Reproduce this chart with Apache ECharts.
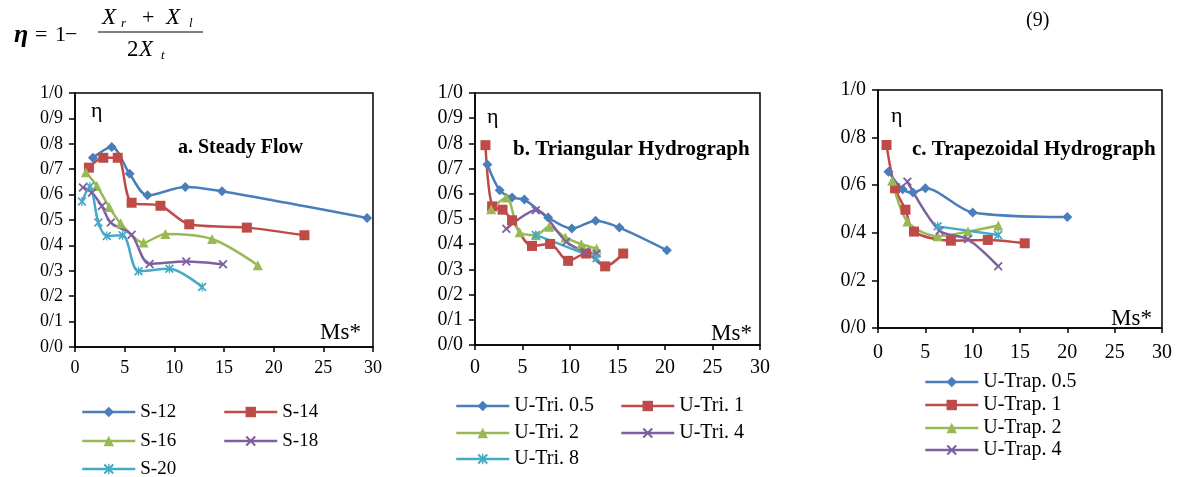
<!DOCTYPE html>
<html><head><meta charset="utf-8">
<script src="https://cdn.jsdelivr.net/npm/echarts@6/dist/echarts.min.js"></script>
<style>html,body{margin:0;padding:0;background:#fff}#c{width:1178px;height:477px}</style>
</head><body><div id="c"></div>
<script>
// ---- tick labels ----
const xTicks = [0, 5, 10, 15, 20, 25, 30];
const yLabelsAB = ['0/0','0/1','0/2','0/3','0/4','0/5','0/6','0/7','0/8','0/9','1/0'];
const yLabelsC = ['0/0','0/2','0/4','0/6','0/8','1/0'];

// ---- a. Steady Flow ----
const namesA = ['S-12','S-14','S-16','S-18','S-20'];
const s12 = [[1.8,0.745],[3.7,0.787],[5.5,0.682],[7.3,0.597],[11.1,0.63],[14.8,0.613],[29.4,0.508]];
const s14 = [[1.4,0.706],[2.85,0.745],[4.3,0.745],[5.7,0.568],[8.6,0.556],[11.5,0.483],[17.3,0.47],[23.1,0.44]];
const s16 = [[1.1,0.688],[2.2,0.634],[3.45,0.551],[4.6,0.487],[6.9,0.411],[9.1,0.445],[13.8,0.425],[18.4,0.322]];
const s18 = [[0.8,0.628],[1.7,0.607],[2.7,0.555],[3.6,0.49],[5.7,0.442],[7.5,0.327],[11.2,0.337],[14.9,0.326]];
const s20 = [[0.7,0.573],[1.5,0.632],[2.35,0.49],[3.2,0.437],[4.8,0.44],[6.4,0.298],[9.5,0.308],[12.8,0.236]];

// ---- b. Triangular Hydrograph ----
const namesB = ['U-Tri. 0.5','U-Tri. 1','U-Tri. 2','U-Tri. 4','U-Tri. 8'];
const tri05 = [[1.3,0.716],[2.6,0.614],[3.9,0.585],[5.2,0.577],[7.7,0.506],[10.2,0.462],[12.7,0.493],[15.2,0.466],[20.2,0.376]];
const tri1 = [[1.1,0.793],[1.8,0.55],[2.9,0.537],[3.9,0.495],[6.0,0.393],[7.9,0.401],[9.8,0.334],[11.7,0.363],[13.7,0.312],[15.6,0.363]];
const tri2 = [[1.7,0.539],[3.3,0.585],[4.7,0.447],[6.4,0.436],[7.8,0.469],[9.5,0.427],[11.2,0.4],[12.8,0.383]];
const tri4 = [[3.3,0.461],[6.4,0.535],[9.6,0.41],[11.6,0.37],[12.8,0.363]];
const tri8 = [[6.4,0.437],[12.8,0.344]];

// ---- c. Trapezoidal Hydrograph ----
const namesC = ['U-Trap. 0.5','U-Trap. 1','U-Trap. 2','U-Trap. 4'];
const trap05 = [[1.1,0.657],[2.6,0.583],[3.7,0.569],[5.0,0.587],[10.0,0.485],[20.0,0.466]];
const trap1 = [[0.9,0.769],[1.8,0.587],[2.9,0.497],[3.8,0.405],[7.7,0.367],[11.6,0.37],[15.5,0.356]];
const trap2 = [[1.5,0.619],[3.1,0.447],[6.3,0.386],[9.5,0.405],[12.7,0.431]];
const trap4 = [[3.1,0.615],[6.5,0.409],[9.5,0.373],[12.7,0.259]];
const trap8 = [[6.3,0.427],[12.7,0.391]];

const FONT = 'Liberation Serif';
const COL = ['#4A7EBB','#BE4B48','#98B954','#7D60A0','#46AAC5'];
const SYM = [
  'diamond',
  'rect',
  'triangle',
  'path://M0,1.4 L1.4,0 L5,3.6 L8.6,0 L10,1.4 L6.4,5 L10,8.6 L8.6,10 L5,6.4 L1.4,10 L0,8.6 L3.6,5 Z',
  'path://M0,1.4 L1.4,0 L5,3.6 L8.6,0 L10,1.4 L6.4,5 L10,8.6 L8.6,10 L5,6.4 L1.4,10 L0,8.6 L3.6,5 Z M4.3,0 L5.7,0 L5.7,10 L4.3,10 Z'
];
const SIZE = [10, 10, 10, 9, 9];

function mk(name, data, ax, k) {
  return {
    type: 'line', name: name, data: data, xAxisIndex: ax, yAxisIndex: ax,
    smooth: 0.3, symbol: SYM[k], symbolSize: SIZE[k],
    lineStyle: { width: 2.5, color: COL[k] },
    itemStyle: { color: COL[k] },
    emphasis: { disabled: true }, animation: false
  };
}

const grids = [
  { left: 75, top: 93, width: 298, height: 254 },
  { left: 475, top: 93, width: 285, height: 252 },
  { left: 878, top: 90, width: 284, height: 238 }
].map(g => Object.assign(g, { show: true, borderColor: '#000', borderWidth: 1.5, backgroundColor: 'transparent', containLabel: false, outerBoundsMode: 'none' }));

const labelSizes = [18, 20, 20];
const xMargins = [12, 13, 15];
const xAxes = [0,1,2].map(i => ({
  type: 'value', gridIndex: i, min: 0, max: 30, interval: 5,
  axisLine: { show: true, onZero: false, lineStyle: { color: '#000', width: 1.5 } },
  axisTick: { show: true, inside: false, length: 5, lineStyle: { color: '#000', width: 1.5 } },
  splitLine: { show: false },
  axisLabel: { color: '#000', fontFamily: FONT, fontSize: labelSizes[i], margin: xMargins[i],
    formatter: v => String(xTicks[Math.round(v / 5)]) }
}));
const yAxes = [0,1,2].map(i => ({
  type: 'value', gridIndex: i, min: 0, max: 1, interval: i === 2 ? 0.2 : 0.1,
  axisLine: { show: true, onZero: false, lineStyle: { color: '#000', width: 1.5 } },
  axisTick: { show: true, inside: false, length: 6, lineStyle: { color: '#000', width: 1.5 } },
  splitLine: { show: false },
  axisLabel: { color: '#000', fontFamily: FONT, fontSize: labelSizes[i], margin: 12,
    formatter: v => i === 2 ? yLabelsC[Math.round(v * 5)] : yLabelsAB[Math.round(v * 10)] }
}));

const series = [
  mk(namesA[0], s12, 0, 0), mk(namesA[1], s14, 0, 1), mk(namesA[2], s16, 0, 2), mk(namesA[3], s18, 0, 3), mk(namesA[4], s20, 0, 4),
  mk(namesB[0], tri05, 1, 0), mk(namesB[1], tri1, 1, 1), mk(namesB[2], tri2, 1, 2), mk(namesB[3], tri4, 1, 3), mk(namesB[4], tri8, 1, 4),
  mk(namesC[0], trap05, 2, 0), mk(namesC[1], trap1, 2, 1), mk(namesC[2], trap2, 2, 2), mk(namesC[3], trap4, 2, 3), mk('U-Trap. 8', trap8, 2, 4)
];

// one legend per entry, placed at its spot
function lg(name, left, cy, fs) {
  return {
    data: [name], left: left, top: cy - fs / 2, orient: 'horizontal',
    itemWidth: 53, itemHeight: 13, padding: 0, selectedMode: false,
    lineStyle: { width: 2.5 },
    textStyle: { fontFamily: FONT, fontSize: fs, color: '#000' }
  };
}
const legends = [
  lg(namesA[0], 81, 412, 19), lg(namesA[1], 223, 412, 19),
  lg(namesA[2], 81, 441, 19), lg(namesA[3], 223, 441, 19),
  lg(namesA[4], 81, 469, 19),
  lg(namesB[0], 455, 406, 20), lg(namesB[1], 620, 406, 20),
  lg(namesB[2], 455, 433, 20), lg(namesB[3], 620, 433, 20),
  lg(namesB[4], 455, 459, 20),
  lg(namesC[0], 924, 382, 20), lg(namesC[1], 924, 405, 20),
  lg(namesC[2], 924, 428, 20), lg(namesC[3], 924, 450, 20)
];

function at(x, y, s, font) {
  return { type: 'text', x: x, y: y, style: { text: s, font: font, fill: '#000', textVerticalAlign: 'middle' }, z: 100 };
}
const IT = 'italic 23px ' + FONT;
const graphics = [
  at(14, 35, 'η', 'bold italic 26px ' + FONT),
  at(35, 35, '=', '22px ' + FONT),
  at(55, 35, '1', '22px ' + FONT),
  at(65, 35, '−', '22px ' + FONT),
  at(102, 18, 'X', IT), at(121, 24, 'r', 'italic 13px ' + FONT),
  at(142, 18, '+', '22px ' + FONT),
  at(166, 18, 'X', IT), at(189, 24, 'l', 'italic 13px ' + FONT),
  { type: 'line', shape: { x1: 98, y1: 32, x2: 203, y2: 32 }, style: { stroke: '#000', lineWidth: 1.2 }, z: 100 },
  at(127, 50, '2', '23px ' + FONT), at(139, 50, 'X', IT), at(161, 56, 't', 'italic 13px ' + FONT),
  at(1026, 21, '(9)', '20px ' + FONT),
  at(178, 148, 'a. Steady Flow', 'bold 20px ' + FONT),
  at(513, 150, 'b. Triangular Hydrograph', 'bold 21px ' + FONT),
  at(912, 150, 'c. Trapezoidal Hydrograph', 'bold 21px ' + FONT),
  at(91, 111, 'η', '22px ' + FONT),
  at(487, 117, 'η', '22px ' + FONT),
  at(891, 116, 'η', '22px ' + FONT),
  at(320, 333, 'Ms*', '23px ' + FONT),
  at(711, 334, 'Ms*', '23px ' + FONT),
  at(1111, 319, 'Ms*', '23px ' + FONT)
];

const chart = echarts.init(document.getElementById('c'), null, { renderer: 'canvas' });
chart.setOption({
  animation: false,
  backgroundColor: '#fff',
  grid: grids, xAxis: xAxes, yAxis: yAxes,
  legend: legends, series: series, graphic: graphics
});
</script></body></html>
